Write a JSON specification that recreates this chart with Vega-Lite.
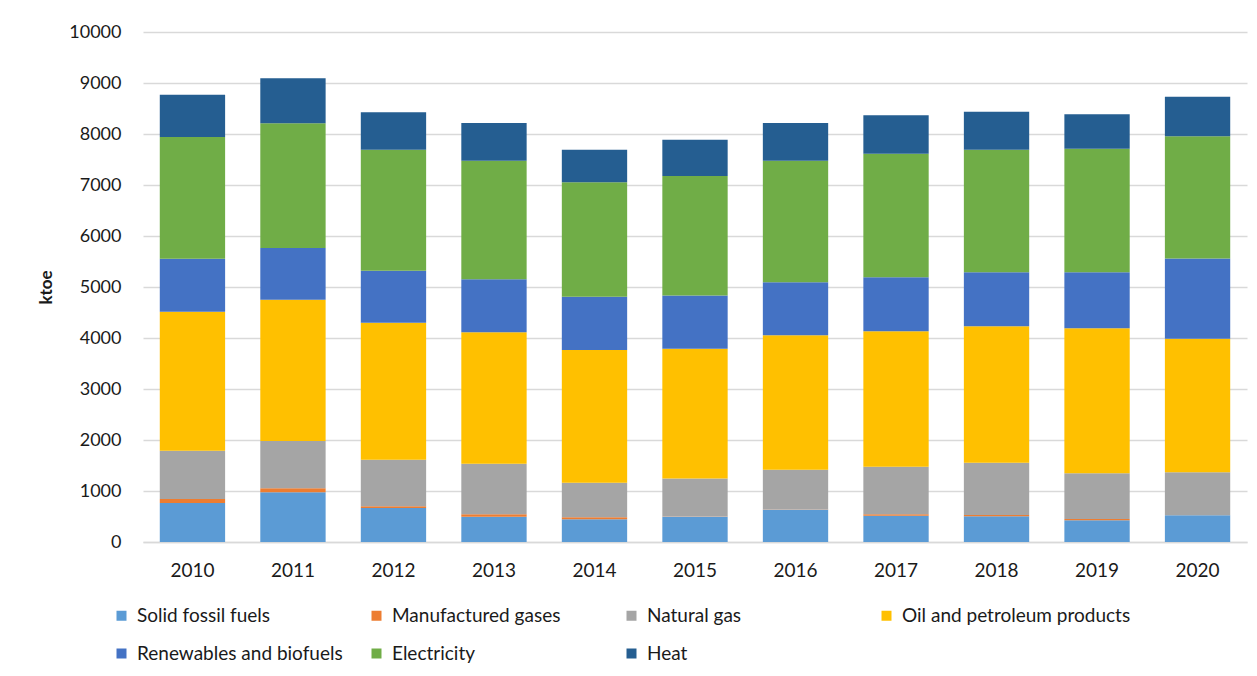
{
  "$schema": "https://vega.github.io/schema/vega-lite/v6.json",
  "autosize": "none",
  "width": 1104,
  "height": 510,
  "padding": {"left": 143, "top": 32, "right": 10, "bottom": 134},
  "background": "white",
  "config": {
    "font": "Lato",
    "view": {"stroke": null},
    "axis": {"labelFont": "Lato", "titleFont": "Lato", "labelColor": "#1a1a1a", "titleColor": "#1a1a1a"}
  },
  "datasets": {
    "energy": [
      {"year": "2010", "fuel": "Solid fossil fuels", "order": 1, "value": 765},
      {"year": "2010", "fuel": "Manufactured gases", "order": 2, "value": 78},
      {"year": "2010", "fuel": "Natural gas", "order": 3, "value": 948},
      {"year": "2010", "fuel": "Oil and petroleum products", "order": 4, "value": 2725},
      {"year": "2010", "fuel": "Renewables and biofuels", "order": 5, "value": 1040},
      {"year": "2010", "fuel": "Electricity", "order": 6, "value": 2385},
      {"year": "2010", "fuel": "Heat", "order": 7, "value": 830},
      {"year": "2011", "fuel": "Solid fossil fuels", "order": 1, "value": 974},
      {"year": "2011", "fuel": "Manufactured gases", "order": 2, "value": 78},
      {"year": "2011", "fuel": "Natural gas", "order": 3, "value": 928},
      {"year": "2011", "fuel": "Oil and petroleum products", "order": 4, "value": 2772},
      {"year": "2011", "fuel": "Renewables and biofuels", "order": 5, "value": 1013},
      {"year": "2011", "fuel": "Electricity", "order": 6, "value": 2444},
      {"year": "2011", "fuel": "Heat", "order": 7, "value": 883},
      {"year": "2012", "fuel": "Solid fossil fuels", "order": 1, "value": 667},
      {"year": "2012", "fuel": "Manufactured gases", "order": 2, "value": 32},
      {"year": "2012", "fuel": "Natural gas", "order": 3, "value": 915},
      {"year": "2012", "fuel": "Oil and petroleum products", "order": 4, "value": 2687},
      {"year": "2012", "fuel": "Renewables and biofuels", "order": 5, "value": 1019},
      {"year": "2012", "fuel": "Electricity", "order": 6, "value": 2373},
      {"year": "2012", "fuel": "Heat", "order": 7, "value": 732},
      {"year": "2013", "fuel": "Solid fossil fuels", "order": 1, "value": 497},
      {"year": "2013", "fuel": "Manufactured gases", "order": 2, "value": 45},
      {"year": "2013", "fuel": "Natural gas", "order": 3, "value": 994},
      {"year": "2013", "fuel": "Oil and petroleum products", "order": 4, "value": 2575},
      {"year": "2013", "fuel": "Renewables and biofuels", "order": 5, "value": 1039},
      {"year": "2013", "fuel": "Electricity", "order": 6, "value": 2327},
      {"year": "2013", "fuel": "Heat", "order": 7, "value": 739},
      {"year": "2014", "fuel": "Solid fossil fuels", "order": 1, "value": 444},
      {"year": "2014", "fuel": "Manufactured gases", "order": 2, "value": 40},
      {"year": "2014", "fuel": "Natural gas", "order": 3, "value": 679},
      {"year": "2014", "fuel": "Oil and petroleum products", "order": 4, "value": 2602},
      {"year": "2014", "fuel": "Renewables and biofuels", "order": 5, "value": 1045},
      {"year": "2014", "fuel": "Electricity", "order": 6, "value": 2242},
      {"year": "2014", "fuel": "Heat", "order": 7, "value": 641},
      {"year": "2015", "fuel": "Solid fossil fuels", "order": 1, "value": 497},
      {"year": "2015", "fuel": "Manufactured gases", "order": 2, "value": 5},
      {"year": "2015", "fuel": "Natural gas", "order": 3, "value": 745},
      {"year": "2015", "fuel": "Oil and petroleum products", "order": 4, "value": 2542},
      {"year": "2015", "fuel": "Renewables and biofuels", "order": 5, "value": 1046},
      {"year": "2015", "fuel": "Electricity", "order": 6, "value": 2340},
      {"year": "2015", "fuel": "Heat", "order": 7, "value": 712},
      {"year": "2016", "fuel": "Solid fossil fuels", "order": 1, "value": 634},
      {"year": "2016", "fuel": "Manufactured gases", "order": 2, "value": 3},
      {"year": "2016", "fuel": "Natural gas", "order": 3, "value": 781},
      {"year": "2016", "fuel": "Oil and petroleum products", "order": 4, "value": 2634},
      {"year": "2016", "fuel": "Renewables and biofuels", "order": 5, "value": 1040},
      {"year": "2016", "fuel": "Electricity", "order": 6, "value": 2385},
      {"year": "2016", "fuel": "Heat", "order": 7, "value": 739},
      {"year": "2017", "fuel": "Solid fossil fuels", "order": 1, "value": 516},
      {"year": "2017", "fuel": "Manufactured gases", "order": 2, "value": 26},
      {"year": "2017", "fuel": "Natural gas", "order": 3, "value": 935},
      {"year": "2017", "fuel": "Oil and petroleum products", "order": 4, "value": 2654},
      {"year": "2017", "fuel": "Renewables and biofuels", "order": 5, "value": 1059},
      {"year": "2017", "fuel": "Electricity", "order": 6, "value": 2424},
      {"year": "2017", "fuel": "Heat", "order": 7, "value": 752},
      {"year": "2018", "fuel": "Solid fossil fuels", "order": 1, "value": 503},
      {"year": "2018", "fuel": "Manufactured gases", "order": 2, "value": 26},
      {"year": "2018", "fuel": "Natural gas", "order": 3, "value": 1027},
      {"year": "2018", "fuel": "Oil and petroleum products", "order": 4, "value": 2673},
      {"year": "2018", "fuel": "Renewables and biofuels", "order": 5, "value": 1059},
      {"year": "2018", "fuel": "Electricity", "order": 6, "value": 2405},
      {"year": "2018", "fuel": "Heat", "order": 7, "value": 745},
      {"year": "2019", "fuel": "Solid fossil fuels", "order": 1, "value": 425},
      {"year": "2019", "fuel": "Manufactured gases", "order": 2, "value": 26},
      {"year": "2019", "fuel": "Natural gas", "order": 3, "value": 895},
      {"year": "2019", "fuel": "Oil and petroleum products", "order": 4, "value": 2844},
      {"year": "2019", "fuel": "Renewables and biofuels", "order": 5, "value": 1098},
      {"year": "2019", "fuel": "Electricity", "order": 6, "value": 2424},
      {"year": "2019", "fuel": "Heat", "order": 7, "value": 674},
      {"year": "2020", "fuel": "Solid fossil fuels", "order": 1, "value": 523},
      {"year": "2020", "fuel": "Manufactured gases", "order": 2, "value": 3},
      {"year": "2020", "fuel": "Natural gas", "order": 3, "value": 843},
      {"year": "2020", "fuel": "Oil and petroleum products", "order": 4, "value": 2614},
      {"year": "2020", "fuel": "Renewables and biofuels", "order": 5, "value": 1576},
      {"year": "2020", "fuel": "Electricity", "order": 6, "value": 2398},
      {"year": "2020", "fuel": "Heat", "order": 7, "value": 771}
    ]
  },
  "data": {"name": "energy"},
  "mark": {"type": "bar"},
  "encoding": {
    "x": {
      "field": "year", "type": "ordinal",
      "scale": {"paddingInner": 0.35, "paddingOuter": 0.167},
      "axis": {
        "title": null, "labelAngle": 0, "labelFontSize": 19, "labelPadding": 19,
        "ticks": false, "domainColor": "#d9d9d9", "domainWidth": 1.5
      }
    },
    "y": {
      "field": "value", "type": "quantitative", "stack": "zero",
      "scale": {"domain": [0, 10000], "nice": false},
      "axis": {
        "title": "ktoe", "titleFontSize": 17, "titleFontWeight": "bold", "titlePadding": 13,
        "labelFontSize": 18, "labelPadding": 22, "ticks": false, "domain": false,
        "values": [0, 1000, 2000, 3000, 4000, 5000, 6000, 7000, 8000, 9000, 10000],
        "format": "d", "gridColor": "#d9d9d9", "gridWidth": 1.5
      }
    },
    "color": {
      "field": "fuel", "type": "nominal",
      "scale": {
        "domain": ["Solid fossil fuels", "Manufactured gases", "Natural gas", "Oil and petroleum products", "Renewables and biofuels", "Electricity", "Heat"],
        "range": ["#5B9BD5", "#ED7D31", "#A5A5A5", "#FFC000", "#4472C4", "#70AD47", "#255E91"]
      },
      "legend": {
        "title": null, "orient": "none", "legendX": -31, "legendY": 574,
        "direction": "horizontal", "columns": 4, "gridAlign": "all",
        "columnPadding": 1, "rowPadding": 18,
        "symbolType": "square", "symbolSize": 100, "symbolStrokeWidth": 0,
        "labelFontSize": 19, "labelFont": "Lato", "labelColor": "#1a1a1a",
        "labelOffset": 6, "labelLimit": 400
      }
    },
    "order": {"field": "order", "type": "quantitative", "sort": "ascending"}
  }
}
